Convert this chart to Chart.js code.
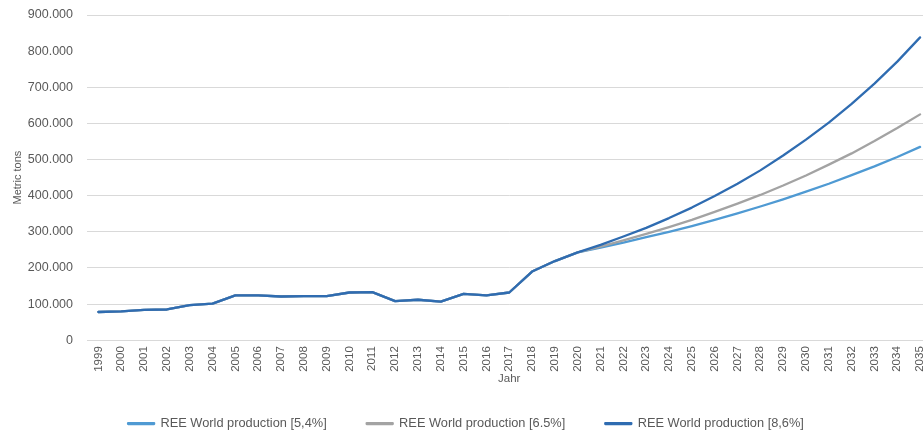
<!DOCTYPE html>
<html>
<head>
<meta charset="utf-8">
<script src="https://cdn.jsdelivr.net/npm/chart.js@4/dist/chart.umd.min.js"></script>
<style>
  html, body { margin: 0; padding: 0; background: #fff; overflow: hidden; width: 923px; height: 434px; }
  #wrap { position: absolute; left: 0; top: 0; width: 940px; height: 440px; }
</style>
</head>
<body>
<div id="wrap"><canvas id="c"></canvas></div>
<script>
// Years on the category axis
const years = ['1999','2000','2001','2002','2003','2004','2005','2006','2007','2008',
  '2009','2010','2011','2012','2013','2014','2015','2016','2017','2018','2019','2020',
  '2021','2022','2023','2024','2025','2026','2027','2028','2029','2030','2031','2032',
  '2033','2034','2035'];

// Recorded world production 1999-2020 (metric tons), shared by all three scenarios
const history = [78000, 80000, 84000, 85000, 97000, 101000, 124000, 124000, 121000, 122000,
  122000, 132000, 133000, 108000, 112000, 107000, 128000, 124000, 132000, 190000, 219000, 243000];

// Scenario values 2021-2035 (metric tons)
const growth54 = [256000, 270000, 285000, 300000, 316000, 333000, 351000, 370000, 390000,
  411000, 433000, 457000, 481000, 507000, 535000];
const growth65 = [259000, 276000, 294000, 313000, 333000, 355000, 378000, 402000, 428000,
  456000, 486000, 517000, 551000, 587000, 625000];
const growth86 = [264000, 287000, 311000, 338000, 367000, 399000, 433000, 470000, 511000,
  555000, 602000, 654000, 710000, 771000, 838000];

const seriesNames = ['REE World production [5,4%]', 'REE World production [6.5%]', 'REE World production [8,6%]'];
const seriesColors = ['#4f9ad3', '#a3a3a3', '#2f6cb1'];

// Horizontal grid line colours, one per y tick (0 ... 900.000); 800.000 has none
const gridColors = ['#d9d9d9', '#d9d9d9', '#d9d9d9', '#d9d9d9', '#d9d9d9',
  '#d9d9d9', '#d9d9d9', '#d9d9d9', 'rgba(255,255,255,0)', '#d9d9d9'];

const textColor = '#595959';
const fontFamily = '"Liberation Sans", Arial, sans-serif';

new Chart(document.getElementById('c'), {
  type: 'line',
  data: {
    labels: years,
    datasets: [
      { label: seriesNames[0], data: history.concat(growth54), borderColor: seriesColors[0], backgroundColor: seriesColors[0], order: 2 },
      { label: seriesNames[1], data: history.concat(growth65), borderColor: seriesColors[1], backgroundColor: seriesColors[1], order: 1 },
      { label: seriesNames[2], data: history.concat(growth86), borderColor: seriesColors[2], backgroundColor: seriesColors[2], order: 0 }
    ]
  },
  options: {
    responsive: true,
    maintainAspectRatio: false,
    animation: false,
    layout: { padding: { top: 15, right: 8, bottom: 0, left: 0 } },
    elements: {
      line: { borderWidth: 2.3, tension: 0, borderCapStyle: 'round', borderJoinStyle: 'round' },
      point: { radius: 0, hoverRadius: 0 }
    },
    plugins: {
      tooltip: { enabled: false },
      legend: {
        position: 'bottom',
        labels: {
          boxWidth: 26,
          boxHeight: 1,
          padding: 40,
          color: textColor,
          font: { family: fontFamily, size: 12.8 },
          sort: (a, b) => a.datasetIndex - b.datasetIndex
        }
      }
    },
    scales: {
      x: {
        offset: true,
        grid: { display: false, drawTicks: false },
        border: { display: false },
        ticks: {
          autoSkip: false,
          minRotation: 90,
          maxRotation: 90,
          padding: 6,
          color: textColor,
          font: { family: fontFamily, size: 11.5 }
        },
        title: {
          display: true,
          text: 'Jahr',
          color: textColor,
          font: { family: fontFamily, size: 11.5 },
          padding: { top: 0, bottom: -9 }
        },
        afterFit: (scale) => { scale.height = 37; }
      },
      y: {
        min: 0,
        max: 900000,
        grid: {
          drawTicks: true,
          tickLength: 11,
          tickColor: 'rgba(255,255,255,0)',
          lineWidth: 1,
          color: gridColors
        },
        border: { display: false },
        ticks: {
          stepSize: 100000,
          padding: 3,
          color: textColor,
          font: { family: fontFamily, size: 12.5 },
          callback: (v) => v.toLocaleString('de-DE')
        },
        title: {
          display: true,
          text: 'Metric tons',
          color: textColor,
          font: { family: fontFamily, size: 11 },
          padding: { top: 11, bottom: 0 }
        },
        afterFit: (scale) => { scale.width = 87; }
      }
    }
  }
});
</script>
</body>
</html>
